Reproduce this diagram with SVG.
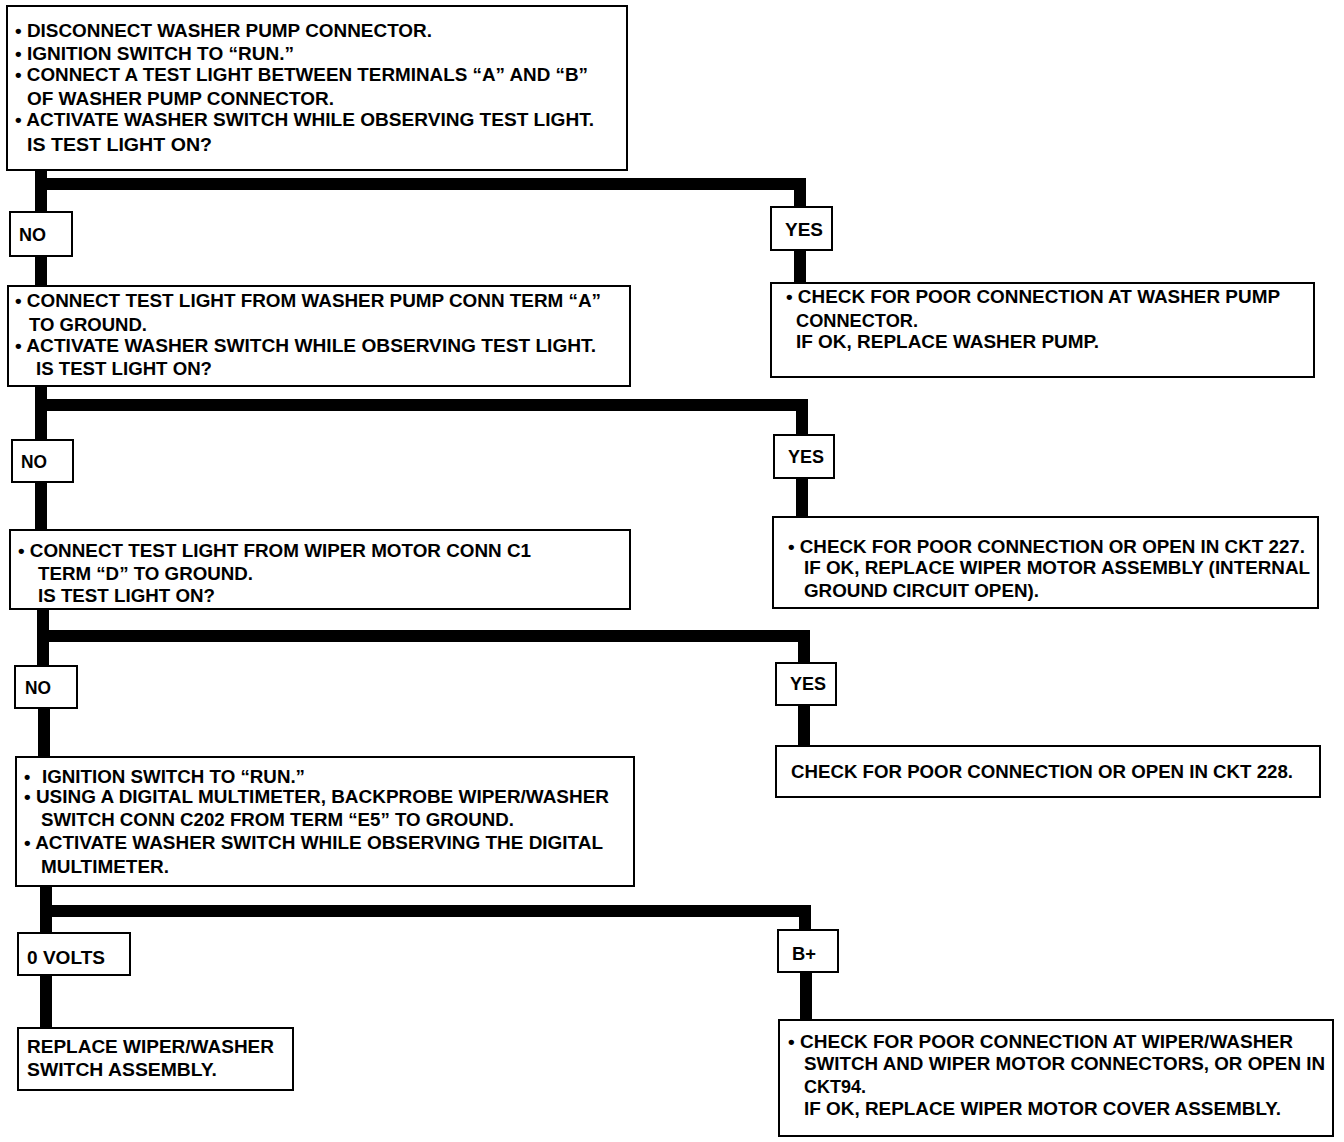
<svg xmlns="http://www.w3.org/2000/svg" width="1344" height="1142" viewBox="0 0 1344 1142">
<style>
.box{fill:#fff;stroke:#000;stroke-width:2}
.t{font-family:"Liberation Sans",Arial,sans-serif;font-weight:bold;font-size:18px;fill:#000}
.c{fill:none;stroke:#000;stroke-width:12;stroke-linejoin:miter;stroke-linecap:butt}
</style>
<rect width="1344" height="1142" fill="#fff"/>
<g id="connectors">
<path class="c" d="M41 170 V212 M41 184 H800 V207 M800 250 V283 M41 256 V286"/>
<path class="c" d="M41 386 V440 M41 405 H802 V435 M802 478 V517 M41 482 V530"/>
<path class="c" d="M43 609 V666 M43 636 H804 V663 M804 705 V746 M44 708 V757"/>
<path class="c" d="M46 886 V933 M46 911 H805 V930 M806 972 V1020 M46 975 V1028"/>
</g>
<g id="n1">
<rect class="box" x="7" y="6" width="620" height="164"/>
<text class="t" x="15" y="37" textLength="417" lengthAdjust="spacingAndGlyphs">• DISCONNECT WASHER PUMP CONNECTOR.</text>
<text class="t" x="15" y="60" textLength="279" lengthAdjust="spacingAndGlyphs">• IGNITION SWITCH TO “RUN.”</text>
<text class="t" x="15" y="81" textLength="573" lengthAdjust="spacingAndGlyphs">• CONNECT A TEST LIGHT BETWEEN TERMINALS “A” AND “B”</text>
<text class="t" x="27" y="105" textLength="307" lengthAdjust="spacingAndGlyphs">OF WASHER PUMP CONNECTOR.</text>
<text class="t" x="15" y="126" textLength="579" lengthAdjust="spacingAndGlyphs">• ACTIVATE WASHER SWITCH WHILE OBSERVING TEST LIGHT.</text>
<text class="t" x="27" y="151" textLength="185" lengthAdjust="spacingAndGlyphs">IS TEST LIGHT ON?</text>
</g>
<g id="no1">
<rect class="box" x="10" y="212" width="62" height="44"/>
<text class="t" x="19" y="241" textLength="27" lengthAdjust="spacingAndGlyphs">NO</text>
</g>
<g id="yes1">
<rect class="box" x="771" y="207" width="61" height="43"/>
<text class="t" x="785" y="236" textLength="38" lengthAdjust="spacingAndGlyphs">YES</text>
</g>
<g id="n2">
<rect class="box" x="8" y="286" width="622" height="100"/>
<text class="t" x="15" y="307" textLength="586" lengthAdjust="spacingAndGlyphs">• CONNECT TEST LIGHT FROM WASHER PUMP CONN TERM “A”</text>
<text class="t" x="29" y="331" textLength="118" lengthAdjust="spacingAndGlyphs">TO GROUND.</text>
<text class="t" x="15" y="352" textLength="581" lengthAdjust="spacingAndGlyphs">• ACTIVATE WASHER SWITCH WHILE OBSERVING TEST LIGHT.</text>
<text class="t" x="36" y="375" textLength="176" lengthAdjust="spacingAndGlyphs">IS TEST LIGHT ON?</text>
</g>
<g id="r1">
<rect class="box" x="771" y="283" width="543" height="94"/>
<text class="t" x="786" y="303" textLength="494" lengthAdjust="spacingAndGlyphs">• CHECK FOR POOR CONNECTION AT WASHER PUMP</text>
<text class="t" x="796" y="327" textLength="122" lengthAdjust="spacingAndGlyphs">CONNECTOR.</text>
<text class="t" x="796" y="348" textLength="303" lengthAdjust="spacingAndGlyphs">IF OK, REPLACE WASHER PUMP.</text>
</g>
<g id="no2">
<rect class="box" x="12" y="440" width="61" height="42"/>
<text class="t" x="21" y="468" textLength="26" lengthAdjust="spacingAndGlyphs">NO</text>
</g>
<g id="yes2">
<rect class="box" x="774" y="435" width="60" height="43"/>
<text class="t" x="788" y="463" textLength="36" lengthAdjust="spacingAndGlyphs">YES</text>
</g>
<g id="n3">
<rect class="box" x="10" y="530" width="620" height="79"/>
<text class="t" x="18" y="557" textLength="513" lengthAdjust="spacingAndGlyphs">• CONNECT TEST LIGHT FROM WIPER MOTOR CONN C1</text>
<text class="t" x="38" y="580" textLength="215" lengthAdjust="spacingAndGlyphs">TERM “D” TO GROUND.</text>
<text class="t" x="38" y="602" textLength="177" lengthAdjust="spacingAndGlyphs">IS TEST LIGHT ON?</text>
</g>
<g id="r2">
<rect class="box" x="773" y="517" width="545" height="91"/>
<text class="t" x="788" y="553" textLength="517" lengthAdjust="spacingAndGlyphs">• CHECK FOR POOR CONNECTION OR OPEN IN CKT 227.</text>
<text class="t" x="804" y="574" textLength="506" lengthAdjust="spacingAndGlyphs">IF OK, REPLACE WIPER MOTOR ASSEMBLY (INTERNAL</text>
<text class="t" x="804" y="597" textLength="235" lengthAdjust="spacingAndGlyphs">GROUND CIRCUIT OPEN).</text>
</g>
<g id="no3">
<rect class="box" x="15" y="666" width="62" height="42"/>
<text class="t" x="25" y="694" textLength="26" lengthAdjust="spacingAndGlyphs">NO</text>
</g>
<g id="yes3">
<rect class="box" x="776" y="663" width="60" height="42"/>
<text class="t" x="790" y="690" textLength="36" lengthAdjust="spacingAndGlyphs">YES</text>
</g>
<g id="r3">
<rect class="box" x="776" y="746" width="544" height="51"/>
<text class="t" x="791" y="778" textLength="502" lengthAdjust="spacingAndGlyphs">CHECK FOR POOR CONNECTION OR OPEN IN CKT 228.</text>
</g>
<g id="n4">
<rect class="box" x="16" y="757" width="618" height="129"/>
<text class="t" x="24" y="783">•</text>
<text class="t" x="42" y="783" textLength="263" lengthAdjust="spacingAndGlyphs">IGNITION SWITCH TO “RUN.”</text>
<text class="t" x="24" y="803" textLength="585" lengthAdjust="spacingAndGlyphs">• USING A DIGITAL MULTIMETER, BACKPROBE WIPER/WASHER</text>
<text class="t" x="41" y="826" textLength="473" lengthAdjust="spacingAndGlyphs">SWITCH CONN C202 FROM TERM “E5” TO GROUND.</text>
<text class="t" x="24" y="849" textLength="579" lengthAdjust="spacingAndGlyphs">• ACTIVATE WASHER SWITCH WHILE OBSERVING THE DIGITAL</text>
<text class="t" x="41" y="873" textLength="128" lengthAdjust="spacingAndGlyphs">MULTIMETER.</text>
</g>
<g id="v0">
<rect class="box" x="18" y="933" width="112" height="42"/>
<text class="t" x="27" y="964" textLength="78" lengthAdjust="spacingAndGlyphs">0 VOLTS</text>
</g>
<g id="bplus">
<rect class="box" x="778" y="930" width="60" height="42"/>
<text class="t" x="792" y="960" textLength="24" lengthAdjust="spacingAndGlyphs">B+</text>
</g>
<g id="n5">
<rect class="box" x="18" y="1028" width="275" height="62"/>
<text class="t" x="27" y="1053" textLength="247" lengthAdjust="spacingAndGlyphs">REPLACE WIPER/WASHER</text>
<text class="t" x="27" y="1076" textLength="190" lengthAdjust="spacingAndGlyphs">SWITCH ASSEMBLY.</text>
</g>
<g id="r4">
<rect class="box" x="779" y="1020" width="554" height="116"/>
<text class="t" x="788" y="1048" textLength="505" lengthAdjust="spacingAndGlyphs">• CHECK FOR POOR CONNECTION AT WIPER/WASHER</text>
<text class="t" x="804" y="1070" textLength="521" lengthAdjust="spacingAndGlyphs">SWITCH AND WIPER MOTOR CONNECTORS, OR OPEN IN</text>
<text class="t" x="804" y="1093" textLength="62" lengthAdjust="spacingAndGlyphs">CKT94.</text>
<text class="t" x="804" y="1115" textLength="477" lengthAdjust="spacingAndGlyphs">IF OK, REPLACE WIPER MOTOR COVER ASSEMBLY.</text>
</g>
</svg>
